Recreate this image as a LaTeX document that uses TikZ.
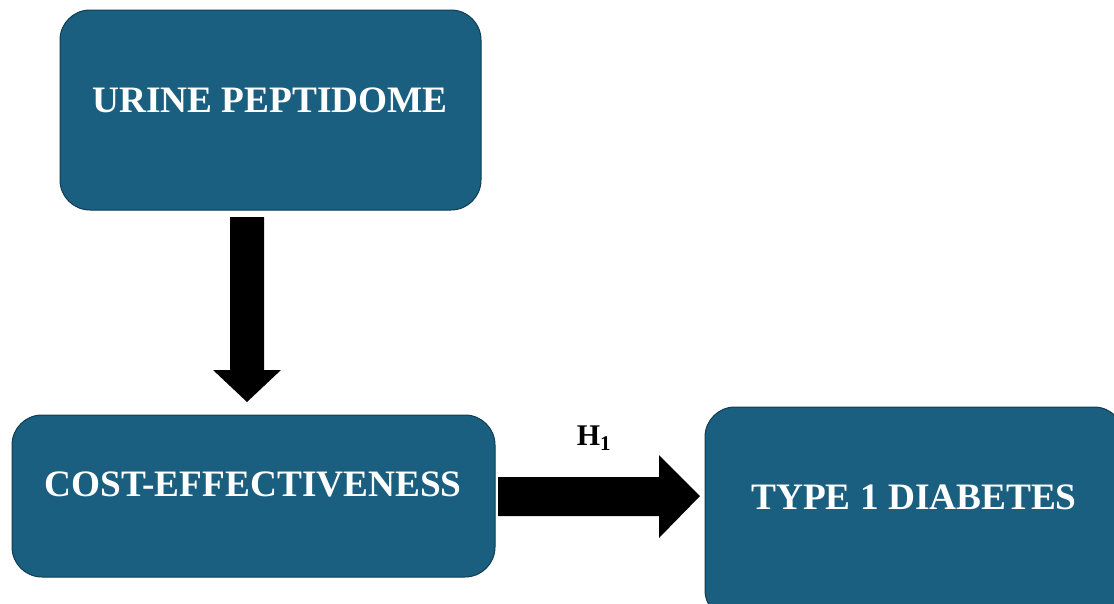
\documentclass[tikz,border=0pt]{standalone}
\usepackage{fontspec}
\setmainfont{Liberation Serif}
\definecolor{boxfill}{HTML}{1A5F80}
\definecolor{boxline}{HTML}{0E3C52}
\begin{document}
\begin{tikzpicture}[x=1pt,y=-1pt,
  box/.style={draw=boxline,line width=1pt,fill=boxfill,rounded corners=30pt},
  lbl/.style={text=white,font=\fontsize{37.3}{42}\selectfont\bfseries,inner sep=0pt},
  fatarrow/.style={fill=black,draw=none}]
\useasboundingbox (0,0) rectangle (1114,603);
\fill[white] (0,0) rectangle (1114,603);
% boxes
\draw[box] (60,10) rectangle (481,210);
\node[lbl] (up) at (270,100) {URINE PEPTIDOME};
\draw[box] (12,415) rectangle (495,577);
\node[lbl] (ce) at (253,484) {COST-EFFECTIVENESS};
\draw[box] (705,407) rectangle (1124,620);
\node[lbl] (t1d) at (914,497) {TYPE 1 DIABETES};
% down arrow
\fill[fatarrow] (230,217) -- (264,217) -- (264,370) -- (281,370) -- (247,402) -- (213,370) -- (230,370) -- cycle;
% right arrow
\fill[fatarrow] (498,477) -- (659,477) -- (659,455) -- (700,496) -- (659,538) -- (659,516) -- (498,516) -- cycle;
\node[font=\fontsize{30}{34}\selectfont\bfseries,inner sep=0pt] (h1) at (594,438) {H\textsubscript{1}};
\end{tikzpicture}
\end{document}
